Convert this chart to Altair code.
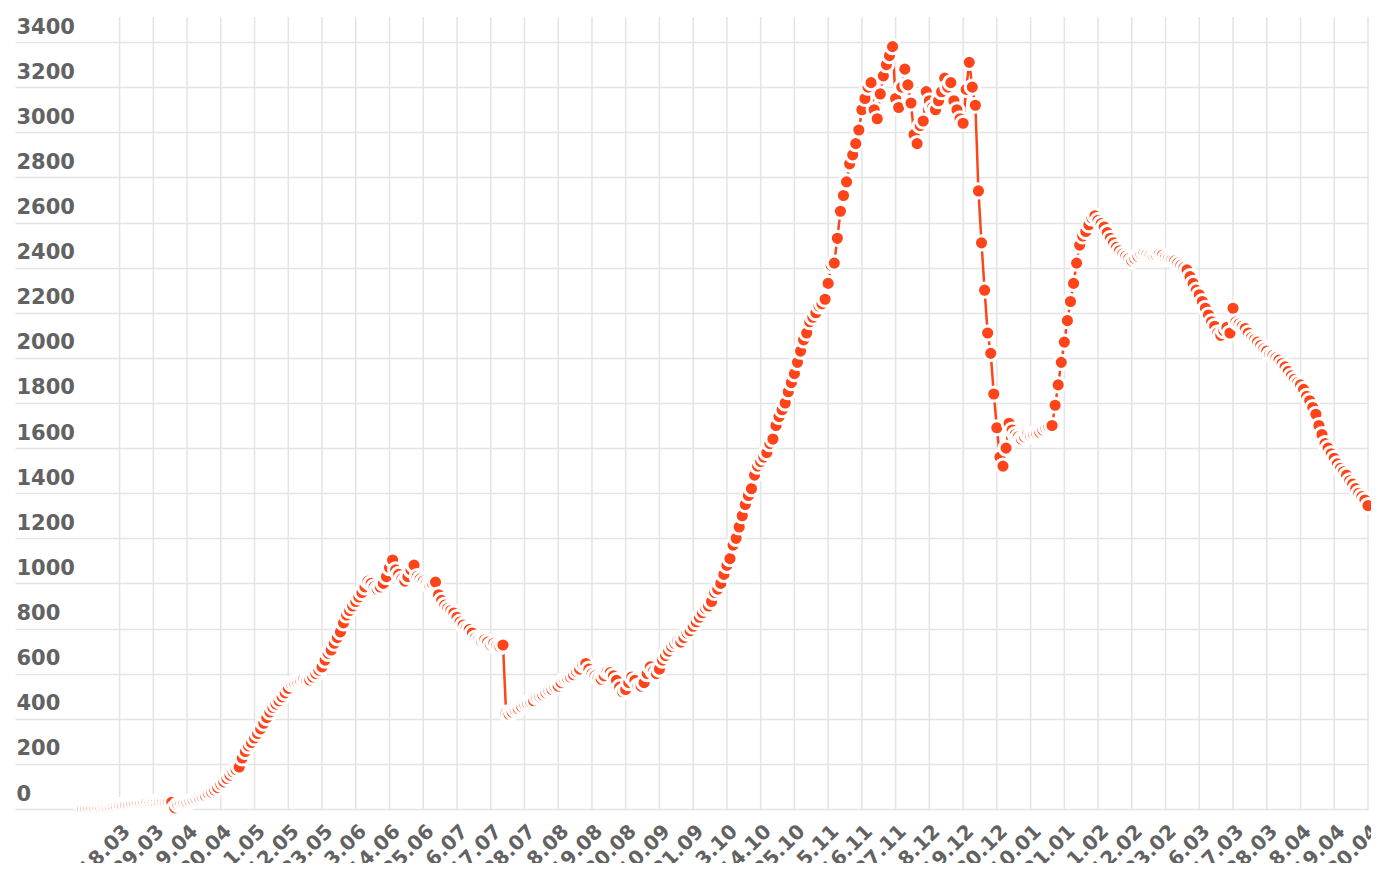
import altair as alt
import pandas as pd

RED = "#ff4419"

labels = ["18.03", "29.03", "9.04", "20.04", "1.05", "12.05", "23.05", "3.06", "14.06",
          "25.06", "6.07", "17.07", "28.07", "8.08", "19.08", "30.08", "10.09", "21.09",
          "3.10", "14.10", "25.10", "5.11", "16.11", "27.11", "8.12", "19.12", "30.12",
          "10.01", "21.01", "1.02", "12.02", "23.02", "6.03", "17.03", "28.03", "8.04",
          "19.04", "30.04"]

# daily values, first point 12 days before 18.03
seg_march = [0, 0, 1, 1, 2, 3, 3, 5, 6, 8, 10, 12, 15,
             16, 18, 20, 22, 24, 25, 26, 28, 30, 28, 27, 28, 29, 30, 30, 31, 30]
seg_april = [5, 20, 25, 28, 30, 35, 40, 45, 50, 55, 60, 68, 75, 84, 95, 110, 120, 135,
             150, 165, 175, 186, 226, 255, 280, 295]
seg_may = [315, 335, 355, 380, 405, 430, 450, 465, 480, 497, 515, 535, 555, 560, 565, 570,
           575, 570, 572, 585, 600, 615, 630, 660, 690, 705, 735, 760, 785, 825, 860]
seg_june_july = [880, 900, 920, 940, 960, 985, 1010, 1000, 985, 975, 984, 1000, 1030, 1070,
                 1104, 1060, 1040, 1020, 1010, 1030, 1060, 1081, 1030, 1020, 1010, 1000, 995,
                 1000, 1006, 950, 925, 904, 890, 880, 869, 850, 829, 815, 800, 795, 780, 758,
                 750, 745, 750, 740, 727, 735, 725, 720, 727]
seg_aug = [425, 420, 430, 440, 445, 455, 465, 470, 475, 480, 495, 500, 505, 515, 525, 530,
           540, 545, 560, 575, 580, 585, 595, 610, 620, 640, 645, 620, 600, 590, 580, 575,
           590, 610, 605]
seg_sep_nov = [590, 570, 540, 520, 530, 560, 585, 570, 545, 545, 560, 600, 630, 610, 600, 620,
               660, 680, 700, 720, 735, 745, 740, 760, 780, 790, 810, 830, 850, 870, 890, 900,
               920, 960, 975, 1000, 1040, 1080, 1110, 1170, 1200, 1250, 1300, 1350, 1390, 1420,
               1480, 1520, 1540, 1560, 1580, 1620, 1640, 1700, 1740, 1770, 1800, 1850, 1890,
               1930, 1980, 2030, 2080, 2110, 2160, 2180, 2200, 2230, 2240, 2260, 2330, 2410, 2420]
seg_nov_jan = [2530, 2650, 2720, 2780, 2860, 2900, 2950, 3010, 3100, 3150, 3200, 3220, 3100,
               3060, 3170, 3250, 3300, 3340, 3380, 3150, 3110, 3200, 3280, 3210, 3130, 2990,
               2950, 3030, 3050, 3180, 3140, 3110, 3100, 3140, 3180, 3240, 3200, 3220, 3140,
               3100, 3060, 3040, 3190, 3310, 3200, 3120, 2740, 2510, 2300, 2110, 2020, 1840,
               1690, 1560, 1520, 1600, 1710, 1680, 1660, 1650, 1640, 1650, 1660, 1655, 1660,
               1665, 1670, 1680, 1690, 1695, 1700]
seg_jan_apr = [1790, 1880, 1980, 2070, 2165, 2250, 2330, 2420, 2500, 2540, 2560, 2590, 2620,
               2630, 2610, 2595, 2580, 2555, 2530, 2510, 2490, 2475, 2460, 2450, 2440, 2430,
               2440, 2450, 2460, 2465, 2460, 2455, 2450, 2455, 2460, 2455, 2445, 2440, 2435,
               2430, 2420, 2410, 2400, 2390, 2360, 2330, 2300, 2280, 2250, 2220, 2190, 2160,
               2140, 2110, 2100, 2120, 2135, 2110, 2220, 2160, 2150, 2140, 2130, 2110, 2090,
               2080, 2070, 2055, 2040, 2030, 2015, 2010, 2000, 1990, 1975, 1960, 1940, 1920,
               1905, 1890, 1880, 1860, 1830, 1810, 1780, 1750, 1700, 1660, 1620, 1600, 1575,
               1555, 1530, 1510, 1495, 1480, 1455, 1440, 1420, 1400, 1385, 1370, 1345]

values = (seg_march + seg_april + seg_may + seg_june_july + seg_aug + seg_sep_nov
          + seg_nov_jan + seg_jan_apr)
last_index = 11 * (len(labels) - 1)
first_index = last_index - len(values) + 1
df = pd.DataFrame({"i": list(range(first_index, last_index + 1)), "v": values})
tick_positions = [11 * k for k in range(len(labels))]
grid_df = pd.DataFrame({"i": tick_positions})

label_expr = "[" + ",".join("'%s'" % l for l in labels) + "][round(datum.value / 11)]"

GRID = "#e4e4e4"
TXT = "#626262"
Y_MAX = 3551
GRID_TOP = 3511

xscale = alt.Scale(domain=[-34.1, last_index], nice=False, zero=False)
yscale = alt.Scale(domain=[0, Y_MAX], nice=False)

x = alt.X(
    "i:Q", scale=xscale,
    axis=alt.Axis(
        values=tick_positions,
        labelExpr=label_expr, labelAngle=315, labelAlign="right", labelBaseline="middle",
        labelPadding=19, labelOffset=7, ticks=False, domain=False, grid=False,
        labelFont="DejaVu Sans", labelFontSize=20,
        labelFontWeight="bold", labelColor=TXT, labelOverlap=False, labelFlush=False,
        title=None,
    ),
)
y = alt.Y(
    "v:Q", scale=yscale,
    axis=alt.Axis(
        values=list(range(0, 3401, 200)), format="d", labelAlign="left",
        labelBaseline="alphabetic", labelPadding=-1, labelOffset=-9, ticks=False,
        domain=False, grid=True, gridColor=GRID, gridWidth=1.5, labelFont="DejaVu Sans",
        labelFontSize=21, labelFontWeight="bold", labelColor=TXT, labelOverlap=False,
        labelFlush=False, title=None,
    ),
)

vgrid = alt.Chart(grid_df).mark_rule(color=GRID, strokeWidth=1.5).encode(
    x=x,
    y=alt.datum(0),
    y2=alt.datum(GRID_TOP),
)

base = alt.Chart(df)
line = base.mark_line(color=RED, strokeWidth=2.5).encode(x=x, y=y)
pts = base.mark_circle(size=200, color=RED, opacity=1, stroke="white", strokeWidth=3).encode(x=x, y=y)

chart = (
    alt.layer(vgrid, line, pts)
    .properties(
        width=1353, height=801,
        padding={"left": 7, "top": 0, "right": 3, "bottom": 54},
        autosize=alt.AutoSizeParams(type="none"),
        background="white",
    )
    .configure_view(stroke=None)
)

chart.save("out.html", embed_options={"renderer": "svg", "actions": False})
